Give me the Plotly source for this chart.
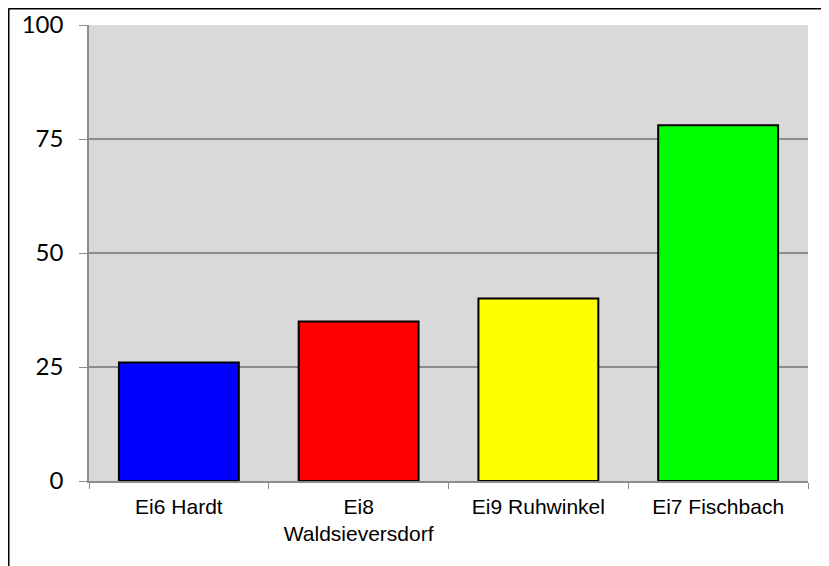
import plotly.graph_objects as go

# Values
sites = ['Ei6 Hardt', 'Ei8<br>Waldsieversdorf', 'Ei9 Ruhwinkel', 'Ei7 Fischbach']
values = [26, 35, 40, 78]
colors = ['#0000ff', '#ff0000', '#ffff00', '#00ff00']
y_ticks = [0, 25, 50, 75, 100]

# page body has an 8px margin, so the figure is drawn 8px in from the corner
W, H = 821, 558
L, R, T, B = 81, 21, 17, 85
pw, ph = W - L - R, H - T - B

def px(x):  # figure pixel x -> paper x
    return (x - L) / pw

def py(y):  # figure pixel y -> paper y
    return (H - B - y) / ph

fig = go.Figure()
fig.add_trace(go.Bar(x=sites, y=values,
                     marker=dict(color=colors, line=dict(color='black', width=2))))

fig.update_layout(
    width=W, height=H,
    margin=dict(l=L, r=R, t=T, b=B),
    plot_bgcolor='#d9d9d9', paper_bgcolor='white',
    bargap=0.333, showlegend=False,
    xaxis=dict(showline=True, linecolor='#8c8c8c', linewidth=1.5, automargin=False,
               ticks='outside', tickson='boundaries', ticklen=6, tickcolor='#8c8c8c',
               ticklabelstandoff=6,
               tickfont=dict(family='Liberation Sans, Arial', size=21, color='black'),
               showgrid=False),
    yaxis=dict(range=[0, 100], tickvals=y_ticks, showline=True, linecolor='#8c8c8c',
               linewidth=1.5, ticks='outside', ticklen=8, tickcolor='#8c8c8c',
               ticklabelstandoff=11, automargin=False,
               tickfont=dict(family='Lato, Open Sans', size=24, color='black'),
               showgrid=True, gridcolor='#8c8c8c', gridwidth=1.5, zeroline=False),
    shapes=[
        dict(type='line', xref='paper', yref='paper', x0=px(0.5), x1=px(W + 5),
             y0=py(0.5), y1=py(0.5), line=dict(color='black', width=2)),
        dict(type='line', xref='paper', yref='paper', x0=px(0.5), x1=px(0.5),
             y0=py(0.5), y1=py(H + 5), line=dict(color='black', width=2)),
    ],
)

fig.write_html("out.html")
